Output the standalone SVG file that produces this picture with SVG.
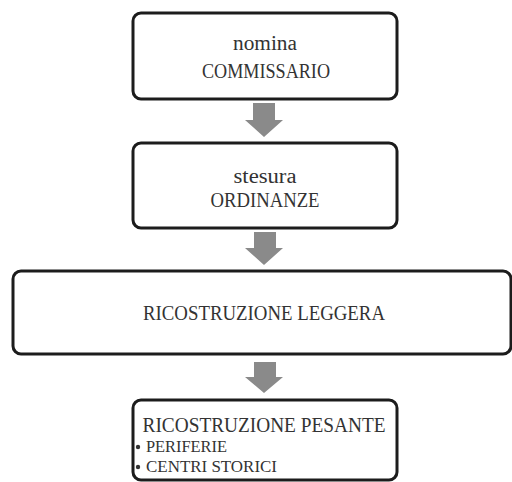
<svg xmlns="http://www.w3.org/2000/svg" width="512" height="482" viewBox="0 0 512 482">
<defs>
<style>
.box{fill:#fff;stroke:#1c1c1c;stroke-width:3}
.arr{fill:#8a8a8a}
.t{font-family:"Liberation Serif","DejaVu Serif",serif;font-size:20px;fill:#333;text-anchor:middle}
.s{font-family:"Liberation Serif","DejaVu Serif",serif;font-size:17px;fill:#333}
</style>
</defs>
<rect width="512" height="482" fill="#fff"/>
<g id="connectors">
<polygon class="arr" points="253,103 275,103 275,120 283,120 264,137 245,120 253,120"/>
<polygon class="arr" points="254,232 276,232 276,248 283,248 264,265 245,248 254,248"/>
<polygon class="arr" points="254,362 276,362 276,377 283,377 264,393 245,377 254,377"/>
</g>
<g id="n1">
<rect class="box" x="133" y="13" width="264" height="86" rx="8"/>
<text class="t" x="265" y="50" textLength="64" lengthAdjust="spacingAndGlyphs">nomina</text>
<text class="t" x="266" y="78" textLength="128" lengthAdjust="spacingAndGlyphs">COMMISSARIO</text>
</g>
<g id="n2">
<rect class="box" x="133" y="143" width="264" height="85" rx="8"/>
<text class="t" x="265" y="183" textLength="63" lengthAdjust="spacingAndGlyphs">stesura</text>
<text class="t" x="265" y="207" textLength="109" lengthAdjust="spacingAndGlyphs">ORDINANZE</text>
</g>
<g id="n3">
<rect class="box" x="13" y="271" width="498" height="83" rx="8"/>
<text class="t" x="264" y="320" textLength="242" lengthAdjust="spacingAndGlyphs">RICOSTRUZIONE LEGGERA</text>
</g>
<g id="n4">
<rect class="box" x="133" y="400" width="264" height="80" rx="8"/>
<text class="t" x="264" y="432" textLength="243" lengthAdjust="spacingAndGlyphs">RICOSTRUZIONE PESANTE</text>
<circle cx="138" cy="447" r="2.2" fill="#333"/>
<text class="s" x="146" y="452" textLength="81" lengthAdjust="spacingAndGlyphs">PERIFERIE</text>
<circle cx="138" cy="467" r="2.2" fill="#333"/>
<text class="s" x="146" y="472" textLength="131" lengthAdjust="spacingAndGlyphs">CENTRI STORICI</text>
</g>
</svg>
